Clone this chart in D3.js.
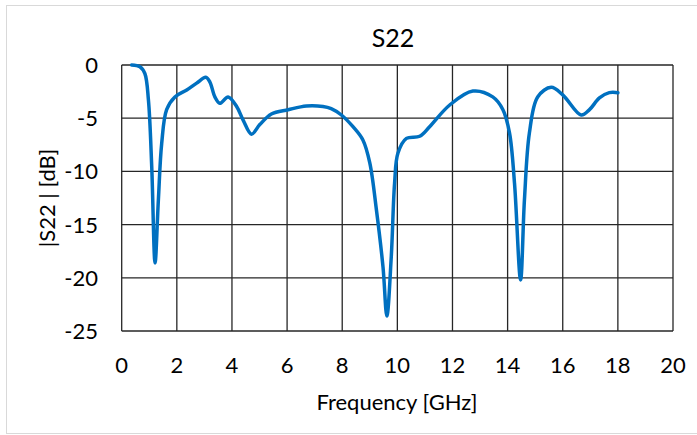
<!DOCTYPE html>
<html>
<head>
<meta charset="utf-8">
<script src="https://cdn.jsdelivr.net/npm/d3@7"></script>
<style>
  body { margin: 0; background: #fff; }
  text { font-family: Lato, "Open Sans", sans-serif; fill: #000; }
</style>
</head>
<body>
<script>
// S22 magnitude
let freq = [0.36, 0.66, 0.84, 0.97, 1.09, 1.21, 1.33, 1.45, 1.63, 1.93, 2.36, 2.72, 3.05, 3.2, 3.38, 3.56, 3.86, 4.17, 4.41, 4.71, 5.01, 5.43, 6.04, 6.7, 7.3, 7.6, 7.97, 8.39, 8.75, 9.0, 9.24, 9.48, 9.62, 9.78, 9.9, 10.02, 10.33, 10.81, 11.17, 11.9, 12.74, 13.46, 13.83, 14.07, 14.25, 14.47, 14.61, 14.79, 15.09, 15.58, 16.0, 16.67, 16.97, 17.33, 17.69, 18.0];
let s22 = [0, -0.16, -0.8, -3.3, -9.6, -18.6, -12.7, -7.4, -4.2, -3.0, -2.35, -1.7, -1.16, -1.6, -3.0, -3.6, -3.0, -3.9, -5.2, -6.5, -5.6, -4.6, -4.2, -3.85, -3.9, -4.1, -4.7, -5.8, -7.05, -9.2, -13.6, -19.0, -23.6, -18.0, -11.1, -8.3, -6.9, -6.7, -5.8, -3.76, -2.45, -3.0, -4.2, -6.4, -11.1, -20.2, -12.7, -6.4, -3.0, -2.1, -2.8, -4.7, -4.2, -3.1, -2.6, -2.6];
let xTicks = [0, 2, 4, 6, 8, 10, 12, 14, 16, 18, 20];
let yTicks = [0, -5, -10, -15, -20, -25];

let svgWidth = 697,
	svgHeight = 435;

let svg = d3.select("body").append("svg")
	.attr("width", svgWidth)
	.attr("height", svgHeight);

// chart area border
svg.append("rect")
	.attr("x", 6.5).attr("y", 5.5)
	.attr("width", 700).attr("height", 428)
	.attr("fill", "#fff")
	.attr("stroke", "#d9d9d9");

let x = d3.scaleLinear().domain([0, 20]).range([121.7, 673]);
let y = d3.scaleLinear().domain([-25, 0]).range([331, 65]);

// grid
svg.append("g").selectAll("line").data(xTicks).enter().append("line")
	.attr("x1", d => x(d)).attr("x2", d => x(d))
	.attr("y1", y(0)).attr("y2", y(-25))
	.attr("stroke", "#262626").attr("stroke-width", 1.3);
svg.append("g").selectAll("line").data(yTicks).enter().append("line")
	.attr("x1", x(0)).attr("x2", x(20))
	.attr("y1", d => y(d)).attr("y2", d => y(d))
	.attr("stroke", "#262626").attr("stroke-width", 1.3);

// tick labels
svg.append("g").selectAll("text").data(xTicks).enter().append("text")
	.attr("x", d => x(d)).attr("y", 373)
	.attr("text-anchor", "middle")
	.style("font-size", "22px")
	.text(d => d);
svg.append("g").selectAll("text").data(yTicks).enter().append("text")
	.attr("x", 98).attr("y", d => y(d) + 8)
	.attr("text-anchor", "end")
	.style("font-size", "22px")
	.text(d => d);

// titles
svg.append("text")
	.attr("x", 393).attr("y", 47)
	.attr("text-anchor", "middle")
	.style("font-size", "25px")
	.text("S22");
svg.append("text")
	.attr("x", 397).attr("y", 410)
	.attr("text-anchor", "middle")
	.style("font-size", "22px")
	.text("Frequency [GHz]");
svg.append("text")
	.attr("transform", "translate(55," + ((y(0) + y(-25)) / 2) + ") rotate(-90)")
	.attr("text-anchor", "middle")
	.style("font-size", "22px")
	.text("|S22 | [dB]");

// curve
let pts = freq.map((f, i) => [f, s22[i]]);
let line = d3.line()
	.x(d => x(d[0]))
	.y(d => y(d[1]))
	.curve(d3.curveCatmullRom.alpha(0.5));

svg.append("path")
	.attr("d", line(pts))
	.attr("fill", "none")
	.attr("stroke", "#0070c0")
	.attr("stroke-width", 3.5)
	.attr("stroke-linejoin", "round")
	.attr("stroke-linecap", "round");
</script>
</body>
</html>
